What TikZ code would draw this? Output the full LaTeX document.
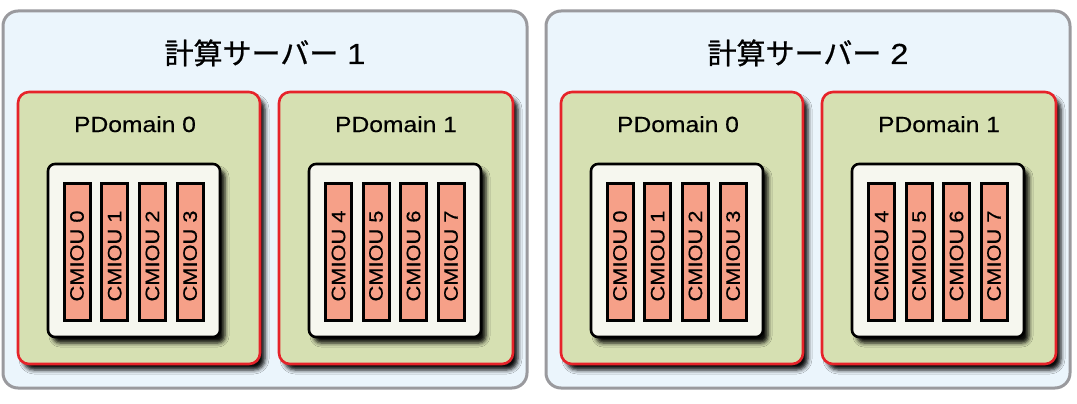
\documentclass[tikz,border=0pt]{standalone}
\usepackage{fontspec}
\setmainfont{Liberation Sans}[FakeStretch=1.12, FakeBold=0.4]
\newfontfamily\cjk{Noto Sans CJK JP}[FakeBold=0.8]
\usetikzlibrary{shadows.blur}

\definecolor{serverfill}{HTML}{EBF5FC}
\definecolor{servergray}{HTML}{9A9A9E}
\definecolor{pdfill}{HTML}{D6E0B2}
\definecolor{pdred}{HTML}{E6232A}
\definecolor{boardfill}{HTML}{F6F7EF}
\definecolor{cmfill}{HTML}{F6A088}

\begin{document}
\begin{tikzpicture}[x=1pt, y=-1pt,
    server/.style={draw=servergray, fill=serverfill, line width=3pt, rounded corners=15pt, minimum width=524pt, minimum height=377pt},
    srvtitle/.style={anchor=base, font=\fontsize{29}{30}\selectfont},
    pdomain/.style={draw=pdred, fill=pdfill, line width=2.6pt, rounded corners=11pt, minimum height=272pt,
        blur shadow={shadow xshift=5pt, shadow yshift=-6pt, shadow blur radius=4pt, shadow opacity=95}},
    pdtitle/.style={anchor=base, font=\fontsize{22}{24}\selectfont},
    board/.style={draw=black, fill=boardfill, line width=2.6pt, rounded corners=7pt, minimum width=172pt, minimum height=173pt,
        blur shadow={shadow xshift=5pt, shadow yshift=-6pt, shadow blur radius=4pt, shadow opacity=95}},
    cmiou/.style={draw=black, fill=cmfill, line width=3pt, rotate=90, minimum width=137pt, minimum height=26pt, inner sep=0pt,
        font=\fontsize{19.5}{20}\selectfont}]
\useasboundingbox (0,0) rectangle (1077,404);
\foreach \s/\dx in {1/0, 2/543} {
    \node[server] (srv\s) at (265+\dx,199.5) {};
    \node[srvtitle] (srv\s-title) at (265+\dx,64) {{\cjk 計算サーバー} \s};
    % PDomain 0
    \node[pdomain, minimum width=242pt] (srv\s-pd0) at (139+\dx,228) {};
    \node[pdtitle] (srv\s-pd0-title) at (135+\dx,132) {PDomain 0};
    \node[board] (srv\s-board0) at (134+\dx,250.5) {};
    \foreach \i in {0,...,3}
        \node[cmiou] (srv\s-cm\i) at (77+37.7*\i+\dx,251.5) {CMIOU \i\hspace*{9pt}};
    % PDomain 1
    \node[pdomain, minimum width=234pt] (srv\s-pd1) at (396+\dx,228) {};
    \node[pdtitle] (srv\s-pd1-title) at (396+\dx,132) {PDomain 1};
    \node[board] (srv\s-board1) at (395+\dx,250.5) {};
    \foreach \i [evaluate=\i as \n using int(\i+4)] in {0,...,3}
        \node[cmiou] (srv\s-cm\n) at (338.5+37.5*\i+\dx,251.5) {CMIOU \n\hspace*{9pt}};
}
\end{tikzpicture}
\end{document}
